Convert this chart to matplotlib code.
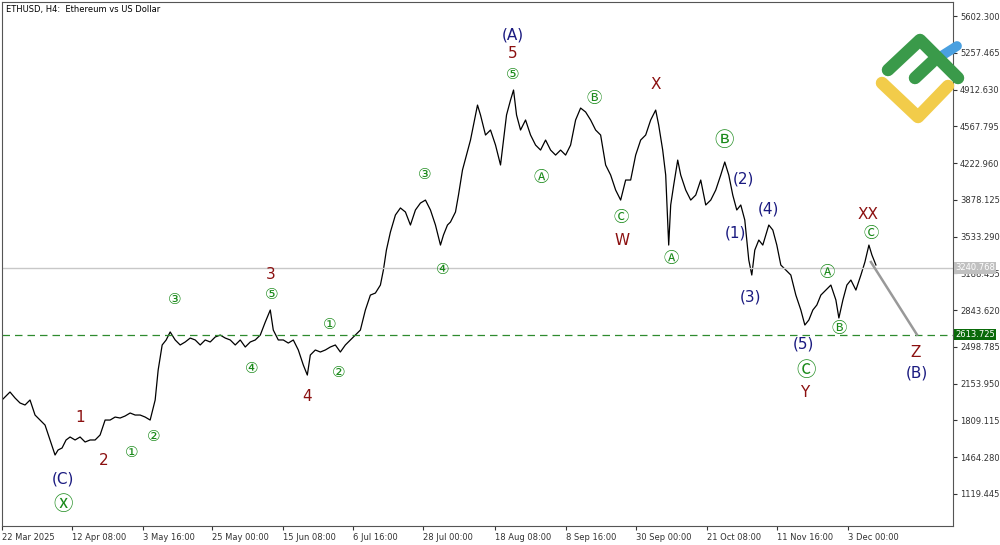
import matplotlib
matplotlib.use("Agg")
import matplotlib.pyplot as plt
from matplotlib.lines import Line2D

plt.rcParams['font.family'] = ['DejaVu Sans', 'Noto Sans CJK SC']

# time position (chart x units) and price
tpos = [2,10,15,20,25,30,35,40,45,50,55,58,62,66,70,75,80,85,90,95,100,105,110,115,120,125,130,135,140,145,150,155,158,162,166,170,175,180,185,190,195,200,205,210,215,220,225,230,235,240,245,250,255,260,265,270,273,278,283,288,293,298,303,307,310,315,320,325,330,335,340,345,350,355,360,365,370,375,380,383,386,390,395,400,405,410,415,420,425,430,435,440,443,447,450,455,458,462,466,470,474,477,480,485,490,495,500,503,506,510,513,516,520,525,530,535,540,545,550,555,560,565,570,575,580,585,590,595,600,605,610,615,620,625,630,635,640,645,650,655,658,662,665,668,670,673,677,680,685,690,695,700,705,710,715,720,724,728,732,736,740,744,748,751,754,758,762,765,768,772,776,780,785,790,795,800,804,808,812,816,820,825,830,835,838,842,846,850,855,860,864,868,871,875]
price = [2001,2076,2020,1973,1954,2001,1860,1813,1766,1626,1485,1532,1551,1626,1654,1626,1654,1607,1626,1626,1673,1813,1813,1841,1832,1851,1879,1860,1860,1841,1813,2001,2282,2517,2564,2639,2564,2517,2545,2582,2564,2517,2564,2545,2592,2610,2582,2564,2517,2564,2498,2545,2564,2610,2732,2845,2657,2564,2564,2535,2564,2470,2329,2235,2423,2470,2451,2470,2498,2517,2451,2517,2564,2610,2657,2845,2985,3004,3079,3220,3407,3576,3736,3802,3764,3642,3783,3848,3876,3783,3642,3454,3548,3642,3670,3764,3923,4158,4298,4439,4627,4767,4674,4486,4533,4392,4205,4439,4674,4814,4908,4674,4533,4627,4486,4392,4345,4439,4345,4298,4345,4298,4392,4627,4739,4702,4627,4533,4486,4205,4111,3970,3876,4064,4064,4298,4439,4486,4627,4720,4580,4345,4111,3454,3830,4017,4251,4111,3970,3876,3923,4064,3830,3876,3970,4111,4233,4111,3923,3783,3830,3689,3314,3173,3407,3501,3454,3548,3642,3595,3454,3267,3220,3173,2985,2845,2704,2751,2845,2892,2985,3032,3079,2939,2770,2939,3079,3126,3032,3173,3295,3454,3361,3267]

time_ticks = [2,72,143,212,283,353,423,494,565,635,706,776,847]
time_labels = ["22 Mar 2025","12 Apr 08:00","3 May 16:00","25 May 00:00","15 Jun 08:00","6 Jul 16:00",
               "28 Jul 00:00","18 Aug 08:00","8 Sep 16:00","30 Sep 00:00","21 Oct 08:00","11 Nov 16:00","3 Dec 00:00"]
price_ticks = [5602.300,5257.465,4912.630,4567.795,4222.960,3878.125,3533.290,3188.455,2843.620,2498.785,2153.950,1809.115,1464.280,1119.445]
current_price = 3240.768
level_price = 2613.725

RED = "#8b1010"; NAVY = "#1a1a80"; GREEN = "#1a8a1a"
labels = [
 (80,1841,"1",RED,11),(104,1438,"2",RED,11),(270,3182,"3",RED,11),(307,2038,"4",RED,11),
 (512,5246,"5",RED,11),(655,4964,"X",RED,11),(621,3501,"W",RED,11),(804,2076,"Y",RED,11),
 (867,3736,"XX",RED,11),(915,2451,"Z",RED,11),
 (512,5424,"(A)",NAVY,11),(63,1260,"(C)",NAVY,11),(743,4073,"(2)",NAVY,11),(735,3567,"(1)",NAVY,11),
 (768,3792,"(4)",NAVY,11),(750,2967,"(3)",NAVY,11),(803,2526,"(5)",NAVY,11),(916,2254,"(B)",NAVY,11),
 (132,1504,"①",GREEN,11),(154,1654,"②",GREEN,11),(174,2939,"③",GREEN,11),(251,2301,"④",GREEN,11),
 (271,2995,"⑤",GREEN,11),(329,2713,"①",GREEN,11),(338,2263,"②",GREEN,11),(424,4120,"③",GREEN,11),
 (442,3229,"④",GREEN,11),(512,5049,"⑤",GREEN,11),(541,4092,"Ⓐ",GREEN,11),(593,4824,"Ⓑ",GREEN,11),
 (620,3717,"Ⓒ",GREEN,11),(670,3332,"Ⓐ",GREEN,11),(723,4430,"Ⓑ",GREEN,14),(805,2282,"Ⓒ",GREEN,14),
 (826,3201,"Ⓐ",GREEN,11),(838,2667,"Ⓑ",GREEN,11),(870,3567,"Ⓒ",GREEN,11),(63,1025,"Ⓧ",GREEN,14),
]
proj_x = [870,916]; proj_p = [3295,2613.725]

fig = plt.figure(figsize=(10,5.45), dpi=100)
ax = fig.add_axes([0.002, 1-526/545, 0.951, 524/545])
ax.set_xlim(2, 952)
ax.set_ylim(819.3, 5733.6)
ax.plot(tpos, price, color="black", lw=0.9)
ax.axhline(current_price, color="#c8c8c8", lw=1)
ax.axhline(level_price, color="#2e8b2e", lw=0.9, ls=(0,(6,4)))
ax.plot(proj_x, proj_p, color="#999999", lw=1.8)
for x,p,t,c,s in labels:
    ax.text(x,p,t,color=c,fontsize=s,ha="center",va="center")
ax.yaxis.tick_right()
ax.set_yticks(price_ticks)
ax.set_yticklabels([f"{v:.3f}" for v in price_ticks], fontsize=6)
ax.set_xticks(time_ticks)
ax.set_xticklabels(time_labels, fontsize=6, ha="left")
ax.tick_params(length=3, pad=2, colors="#333333")
for sp in ax.spines.values(): sp.set_color("#555555"); sp.set_linewidth(0.8)
ax.text(0.004,0.995,"ETHUSD, H4:  Ethereum vs US Dollar",transform=ax.transAxes,fontsize=6,va="top",ha="left")
for p,txt,fc,tc in [(current_price,f"{current_price:.3f}","#c0c0c0","white"),(level_price,f"{level_price:.3f}","#0a6a0a","white")]:
    ax.text(1.002,p,txt,transform=ax.get_yaxis_transform(),fontsize=6,color=tc,va="center",ha="left",
            bbox=dict(boxstyle="square,pad=0.15",fc=fc,ec="none"),clip_on=False)
# logo
def fl(xs,ys,c,w):
    fig.add_artist(Line2D([x/1000 for x in xs],[1-y/545 for y in ys],color=c,lw=w,solid_capstyle="round",transform=fig.transFigure))
fl([935,957],[60,46],"#4aa0e0",7)
fl([882,918,948],[83,117,86],"#f2cc4a",9)
fl([888,920,958],[70,40,78],"#3a9a4a",9)
fl([915,932],[78,62],"#3a9a4a",9)
fig.savefig("out.png", dpi=100)
